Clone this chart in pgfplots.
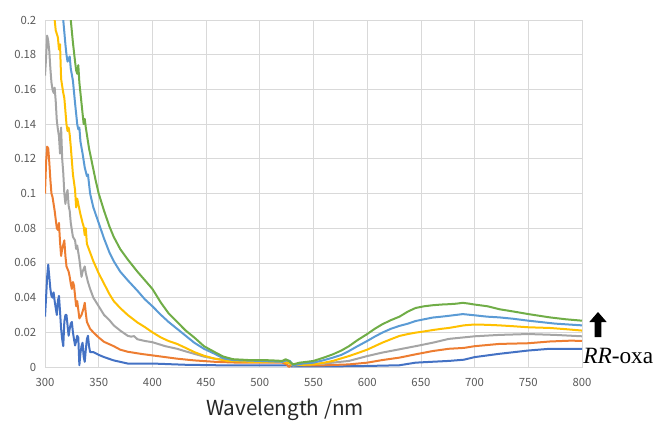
\documentclass[border=0pt]{standalone}
\usepackage{pgfplots}
\pgfplotsset{compat=1.18}
\usepackage{fontspec}
\setmainfont{Liberation Serif}
\newfontfamily\jpfont{Noto Sans CJK JP}
\definecolor{sA}{HTML}{4472C4}
\definecolor{sB}{HTML}{ED7D31}
\definecolor{sC}{HTML}{A5A5A5}
\definecolor{sD}{HTML}{FFC000}
\definecolor{sE}{HTML}{5B9BD5}
\definecolor{sF}{HTML}{70AD47}
\definecolor{gridc}{HTML}{D9D9D9}
\definecolor{tickc}{HTML}{595959}
\begin{document}
\begin{tikzpicture}
\path[use as bounding box] (0,0) rectangle (498pt,324.75pt);
\begin{axis}[
  at={(33.75pt,49.5pt)}, anchor=south west,
  scale only axis, width=402.75pt, height=260.25pt,
  xmin=300, xmax=800, ymin=0, ymax=0.2,
  xtick={300,350,...,800},
  ytick={0,0.02,...,0.2},
  grid=major,
  major grid style={gridc, line width=0.6pt},
  axis line style={gridc, line width=0.6pt},
  tick style={draw=none},
  ticklabel style={font=\jpfont\fontsize{8.5}{10}\selectfont, text=tickc},
  /pgf/number format/assume math mode=true,
  yticklabel style={/pgf/number format/fixed, /pgf/number format/precision=2, xshift=-3pt},
  xticklabel style={/pgf/number format/1000 sep={}, yshift=-5pt},
  clip=true,
  every axis plot/.append style={line width=1.5pt, line join=round, mark=none},
]
\addplot[sA] coordinates {
(300,0.029)(301,0.040)(302,0.052)(303,0.059)(304,0.052)(305,0.045)(306,0.041)(307,0.040)(308,0.043)(309,0.038)
(310,0.034)(311,0.030)(312,0.038)(313,0.041)(314,0.032)(315,0.022)(316,0.016)(317,0.012)(318,0.026)(319,0.030)
(320,0.030)(321,0.024)(322,0.018)(323,0.022)(324,0.025)(325,0.026)(326,0.020)(327,0.016)(328,0.0124)(329,0.015)
(330,0.018)(331,0.017)(332,0.001)(333,0.008)(334,0.012)(335,0.014)(336,0.006)(337,0.003)(338,0.010)(339,0.016)
(340,0.018)(341,0.012)(342,0.0086)(345,0.0086)(350,0.007)(355,0.0057)(364,0.0038)(377,0.002)(400,0.002)(430,0.0013)
(460,0.001)(500,0.001)(525,0.001)(530,0.0003)(560,0.0003)(600,0.0006)(630,0.001)(645,0.0025)(660,0.003)(676,0.0035)
(690,0.0042)(700,0.0057)(723,0.0076)(750,0.0095)(770,0.0105)(800,0.0105)
};
\addplot[sB] coordinates {
(300,0.100)(301,0.118)(302,0.127)(303,0.126)(304,0.118)(305,0.108)(306,0.100)(307,0.098)(308,0.094)(309,0.090)
(310,0.085)(311,0.080)(312,0.079)(313,0.083)(314,0.072)(315,0.064)(316,0.068)(318,0.073)(319,0.064)(320,0.058)
(322,0.055)(323,0.052)(324,0.048)(325,0.045)(326,0.049)(327,0.047)(329,0.035)(330,0.038)(331,0.033)(332,0.028)
(334,0.030)(336,0.034)(337,0.037)(338,0.031)(339,0.026)(342,0.022)(345,0.020)(350,0.017)(355,0.0145)(364,0.0120)
(370,0.010)(377,0.0088)(390,0.0075)(400,0.0067)(412,0.0057)(423,0.0048)(439,0.0038)(458,0.003)(480,0.0025)(500,0.0025)
(521,0.0025)(525,0.0015)(527,0.000)(530,0.0015)(540,0.001)(560,0.001)(583,0.0015)(600,0.0025)(614,0.004)(630,0.0054)
(645,0.0073)(661,0.0092)(676,0.0105)(690,0.011)(700,0.012)(723,0.0133)(750,0.0137)(770,0.0147)(790,0.0152)(800,0.0150)
};
\addplot[sC] coordinates {
(300,0.168)(301,0.178)(302,0.191)(303,0.188)(304,0.182)(305,0.172)(306,0.164)(307,0.160)(308,0.158)(309,0.161)
(310,0.153)(311,0.142)(312,0.137)(313,0.133)(314,0.123)(315,0.138)(316,0.120)(317,0.112)(318,0.100)(319,0.094)
(320,0.099)(321,0.102)(322,0.093)(323,0.090)(324,0.083)(326,0.075)(328,0.073)(329,0.068)(330,0.070)(331,0.066)
(332,0.062)(333,0.057)(334,0.052)(335,0.055)(337,0.058)(338,0.054)(340,0.049)(342,0.045)(345,0.040)(350,0.035)
(355,0.030)(360,0.027)(364,0.024)(370,0.021)(377,0.018)(380,0.0175)(383,0.0178)(386,0.016)(393,0.015)(400,0.0143)
(412,0.012)(423,0.0105)(431,0.009)(439,0.0076)(448,0.006)(458,0.0048)(470,0.004)(490,0.0035)(510,0.003)(521,0.003)
(525,0.0035)(528,0.002)(531,0.0008)(540,0.0015)(560,0.002)(583,0.0035)(600,0.0063)(614,0.0083)(630,0.0102)(645,0.012)
(661,0.014)(676,0.0162)(700,0.0177)(723,0.0185)(750,0.019)(775,0.0185)(800,0.0177)
};
\addplot[sD] coordinates {
(307,0.212)(309,0.200)(310,0.194)(312,0.190)(313,0.183)(314,0.186)(315,0.166)(317,0.158)(318,0.155)(320,0.140)
(321,0.136)(322,0.138)(323,0.134)(324,0.127)(326,0.111)(328,0.102)(329,0.092)(330,0.097)(331,0.094)(333,0.088)
(335,0.083)(336,0.081)(337,0.076)(338,0.080)(339,0.071)(342,0.066)(345,0.061)(350,0.054)(355,0.048)(360,0.042)
(364,0.038)(370,0.034)(377,0.030)(386,0.0257)(393,0.023)(400,0.020)(408,0.017)(415,0.015)(423,0.0133)(431,0.011)
(439,0.0086)(448,0.0065)(458,0.0048)(470,0.0035)(490,0.003)(510,0.003)(521,0.003)(525,0.0025)(528,0.002)(531,0.001)
(550,0.0015)(560,0.0025)(568,0.0035)(576,0.005)(583,0.0063)(591,0.008)(600,0.010)(607,0.012)(614,0.014)(622,0.016)
(630,0.0179)(638,0.019)(645,0.0198)(653,0.0205)(661,0.0213)(669,0.022)(676,0.0225)(690,0.024)(700,0.0245)(712,0.0243)
(723,0.024)(736,0.0235)(750,0.0229)(770,0.0225)(785,0.0218)(800,0.021)
};
\addplot[sE] coordinates {
(315,0.208)(317,0.200)(319,0.186)(320,0.180)(321,0.176)(323,0.179)(324,0.172)(326,0.165)(328,0.152)(329,0.146)
(330,0.140)(331,0.137)(332,0.138)(333,0.130)(335,0.123)(337,0.115)(339,0.110)(340,0.111)(342,0.100)(345,0.092)
(350,0.083)(355,0.074)(360,0.066)(364,0.061)(370,0.055)(377,0.050)(386,0.044)(393,0.039)(400,0.035)(408,0.030)
(415,0.026)(423,0.022)(431,0.018)(439,0.014)(448,0.0105)(458,0.0076)(466,0.005)(475,0.004)(500,0.0035)(521,0.003)
(525,0.004)(528,0.0035)(531,0.001)(540,0.002)(550,0.0025)(560,0.004)(568,0.0054)(576,0.007)(583,0.0092)(591,0.012)
(600,0.015)(607,0.0175)(614,0.0198)(622,0.022)(630,0.0237)(638,0.025)(645,0.0265)(653,0.0275)(661,0.0285)(669,0.029)
(676,0.0295)(689,0.0305)(700,0.0298)(712,0.029)(723,0.0286)(736,0.0278)(750,0.0267)(775,0.025)(800,0.024)
};
\addplot[sF] coordinates {
(322,0.208)(324,0.200)(326,0.187)(328,0.176)(329,0.171)(330,0.169)(331,0.174)(332,0.164)(334,0.152)(336,0.140)
(337,0.143)(338,0.138)(339,0.134)(341,0.126)(344,0.117)(347,0.108)(350,0.100)(355,0.090)(360,0.081)(364,0.075)
(370,0.068)(377,0.062)(386,0.055)(393,0.050)(400,0.045)(408,0.037)(415,0.031)(423,0.026)(431,0.021)(439,0.017)
(448,0.012)(458,0.0086)(466,0.006)(475,0.0045)(490,0.004)(503,0.004)(512,0.0038)(521,0.0035)(524,0.0045)(527,0.0035)
(531,0.0015)(537,0.0025)(544,0.003)(550,0.0035)(560,0.0055)(568,0.0073)(576,0.0095)(583,0.012)(591,0.0155)(600,0.019)
(607,0.022)(614,0.0246)(622,0.027)(630,0.029)(638,0.032)(645,0.034)(653,0.035)(661,0.0356)(669,0.036)(676,0.0362)
(683,0.0365)(689,0.037)(695,0.0365)(700,0.036)(712,0.035)(723,0.0333)(736,0.032)(750,0.0305)(770,0.0286)(785,0.0275)
(800,0.0267)
};
\end{axis}
\node[font=\jpfont\fontsize{15.5}{18}\selectfont, text=black!85] at (213.75pt,17.25pt) {Wavelength /nm};
\fill[black] (446pt,72pt) -- (451pt,72pt) -- (451pt,83.25pt) -- (455pt,83.25pt) -- (448.5pt,90.75pt) -- (442pt,83.25pt) -- (446pt,83.25pt) -- cycle;
\node[anchor=base west, inner sep=0pt, font=\fontsize{17.5}{20}\selectfont] at (437.25pt,52.5pt) {\textit{RR}-oxa};
\end{tikzpicture}
\end{document}
